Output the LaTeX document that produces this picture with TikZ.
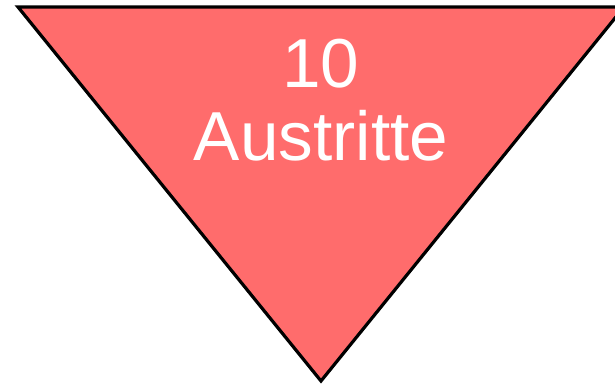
\documentclass[tikz,border=0pt]{standalone}
\usepackage{fontspec}
\setmainfont{Liberation Sans}
\usepackage{xcolor}
\definecolor{exitred}{RGB}{255,108,108}

\begin{document}
\begin{tikzpicture}[
  x=0.75pt, y=-0.75pt,
  every node/.style={font=\fontsize{52}{55}\selectfont, align=center},
  funnel/.style={draw=black, line width=2.4pt, line join=miter, fill=exitred},
  count/.style={text=white, inner sep=0pt}
]
\useasboundingbox (0,0) rectangle (615,385);
\clip (0,0) rectangle (615,385);
\coordinate (tl) at (18,7);
\coordinate (tr) at (624,7);
\coordinate (tip) at (321,381);
\draw[funnel] (tl) -- (tr) -- (tip) -- cycle;
\node[count] (exits) at (321,100) {10\\Austritte};
\end{tikzpicture}
\end{document}
